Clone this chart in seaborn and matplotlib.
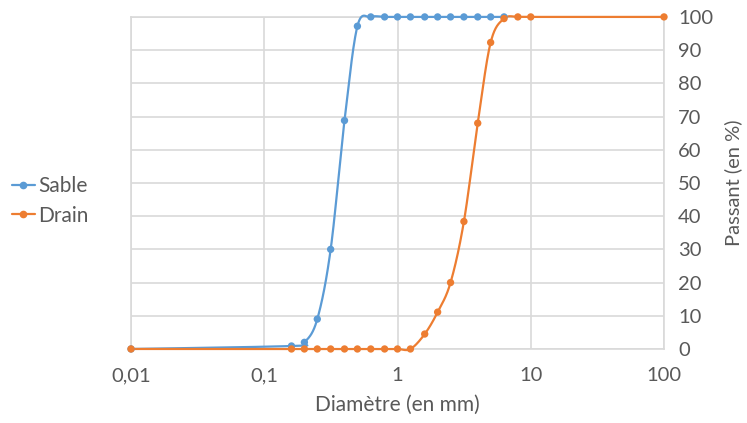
import numpy as np
import pandas as pd
import matplotlib
matplotlib.use("Agg")
import matplotlib.pyplot as plt
import matplotlib.ticker as mticker
import seaborn as sns

# sieve sizes (mm) and percent passing
sable_d = [0.01, 0.16, 0.2, 0.25, 0.315, 0.4, 0.5, 0.63, 0.8, 1, 1.25, 1.6, 2, 2.5, 3.15, 4, 5, 6.3]
sable_p = [0, 0.9, 2.0, 9.0, 30.0, 68.8, 97.2, 100, 100, 100, 100, 100, 100, 100, 100, 100, 100, 100]

drain_d = [0.01, 0.16, 0.2, 0.25, 0.315, 0.4, 0.5, 0.63, 0.8, 1, 1.25, 1.6, 2, 2.5, 3.15, 4, 5, 6.3, 8, 10, 100]
drain_p = [0, 0, 0, 0, 0, 0, 0, 0, 0, 0, 0, 4.5, 11.1, 20.0, 38.4, 68.0, 92.3, 99.5, 100, 100, 100]

BLUE = "#5b9bd5"
ORANGE = "#ed7d31"
GREY_TXT = "#595959"
GRID = "#d9d9d9"


def smooth(xs, ys, n=30):
    # Excel-like smoothed line (Catmull-Rom in log-x space)
    lx = np.log10(xs)
    ys = np.asarray(ys, dtype=float)
    px = np.concatenate([[lx[0]], lx, [lx[-1]]])
    py = np.concatenate([[ys[0]], ys, [ys[-1]]])
    ox, oy = [], []
    t = np.linspace(0, 1, n)
    for i in range(1, len(px) - 2):
        p0, p1, p2, p3 = [np.array([px[j], py[j]]) for j in range(i - 1, i + 3)]
        c1 = p1 + (p2 - p0) / 6
        c2 = p2 - (p3 - p1) / 6
        b = ((1 - t) ** 3)[:, None] * p1 + (3 * (1 - t) ** 2 * t)[:, None] * c1 \
            + (3 * (1 - t) * t ** 2)[:, None] * c2 + (t ** 3)[:, None] * p2
        ox.extend(b[:, 0]); oy.extend(b[:, 1])
    return 10 ** np.array(ox), np.array(oy)


sns.set_style("white")
plt.rcParams['font.family'] = ['Lato', 'DejaVu Sans']

fig = plt.figure(figsize=(7.47, 4.23), dpi=100)
ax = fig.add_axes([0.1754, 0.175, 0.7135, 0.785])

handles = []
for d, p, c, name in [(sable_d, sable_p, BLUE, "Sable"), (drain_d, drain_p, ORANGE, "Drain")]:
    sx, sy = smooth(d, p)
    ax.plot(sx, sy, color=c, lw=1.6, zorder=3, clip_on=False)
    sns.scatterplot(x=d, y=p, color=c, s=28, edgecolor="none", ax=ax, zorder=4, legend=False)
    ax.collections[-1].set_clip_on(False)
    h, = ax.plot([], [], color=c, lw=1.6, marker="o", ms=4.5)
    handles.append(h)

ax.set_xscale("log")
ax.set_xlim(0.01, 100)
ax.set_ylim(0, 100)
ax.set_yticks(range(0, 101, 10))
ax.xaxis.set_major_formatter(mticker.FuncFormatter(lambda v, _: f"{v:g}".replace(".", ",")))
ax.xaxis.set_minor_locator(mticker.NullLocator())
ax.yaxis.tick_right()
ax.yaxis.set_label_position("right")
ax.grid(True, color=GRID, lw=1.2)
ax.set_axisbelow(True)
for s in ax.spines.values():
    s.set_color(GRID)
    s.set_linewidth(1.2)
ax.tick_params(length=0, labelsize=14.5, colors=GREY_TXT, pad=10)
ax.tick_params(axis="x", pad=13)
ax.set_xlabel("Diamètre (en mm)", fontsize=15, color=GREY_TXT, labelpad=8)
ax.set_ylabel("Passant (en %)", fontsize=14.5, color=GREY_TXT, labelpad=8)

if ax.get_legend() is not None:
    ax.get_legend().remove()
fig.legend(handles=handles, labels=["Sable", "Drain"], loc="center left",
           bbox_to_anchor=(12 / 747, 1 - 201 / 423),
           frameon=False, fontsize=15, labelcolor=GREY_TXT, handlelength=1.1,
           handletextpad=0.15, labelspacing=0.45, borderaxespad=0, borderpad=0)

fig.savefig("out.png", dpi=100)
